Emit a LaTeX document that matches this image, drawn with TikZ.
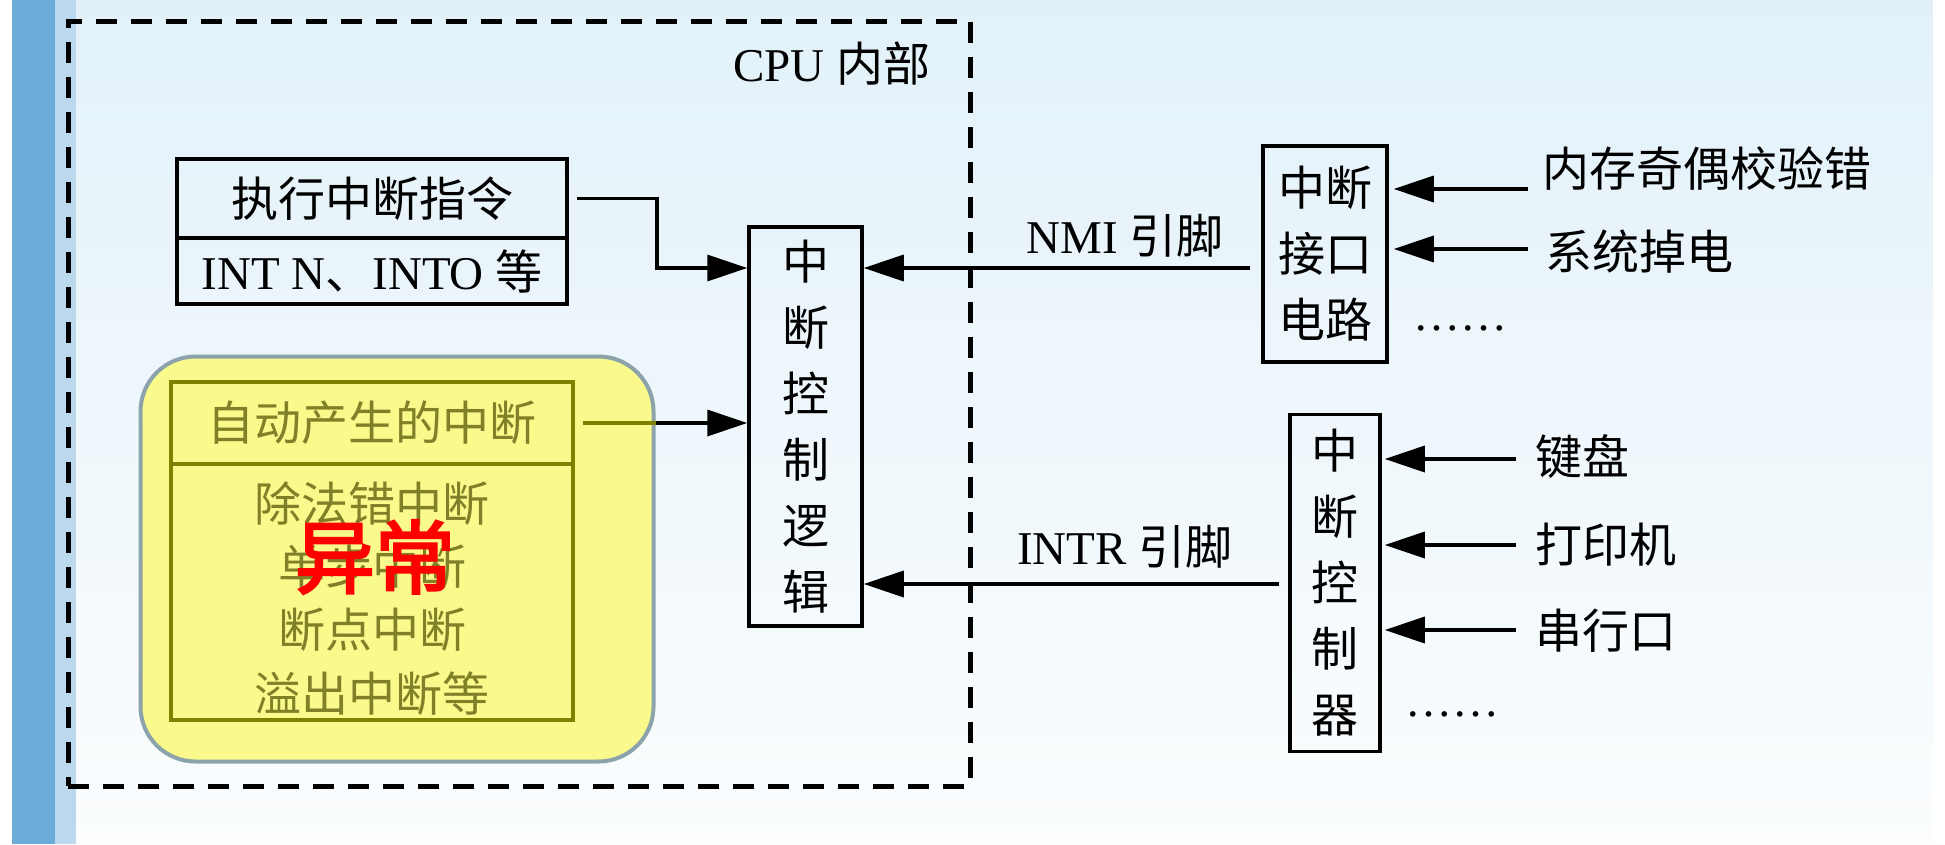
\documentclass[tikz,border=0pt]{standalone}
\usepackage{fontspec}
\setmainfont{Liberation Serif}
\newfontfamily\cjkf{Noto Sans CJK SC}
\newfontfamily\cjkbf{Noto Sans CJK SC}[FakeBold=3]
\usetikzlibrary{arrows.meta}
\newcommand\myzh[1]{{\cjkf #1}}
\definecolor{bgtop}{RGB}{226,241,249}
\definecolor{bgbot}{RGB}{251,253,254}
\definecolor{bardark}{RGB}{108,172,216}
\definecolor{barlight}{RGB}{187,216,236}
\definecolor{yelfill}{RGB}{249,249,140}
\definecolor{yeldraw}{RGB}{140,163,171}
\definecolor{olivedraw}{RGB}{127,127,0}
\definecolor{olivetext}{RGB}{128,128,40}
\definecolor{redtext}{RGB}{255,0,0}
\tikzset{
  box/.style={draw, line width=3.5pt, inner sep=0pt},
  lat/.style={font=\fontsize{47pt}{66pt}\selectfont, inner sep=0pt},
  zh/.style={font=\fontsize{47pt}{66pt}\selectfont\cjkf, inner sep=0pt},
  arr/.style={line width=3.5pt, -{Triangle[length=40pt,width=26pt]}},
  olbox/.style={draw=olivedraw, line width=4pt, inner sep=0pt},
}
\begin{document}
\begin{tikzpicture}[x=1pt,y=-1pt]
\useasboundingbox (0,0) rectangle (1945,844);
% background
\shade[top color=bgtop, bottom color=bgbot] (0,0) rectangle (1945,844);
\fill[white] (0,0) rectangle (12,844);
\fill[white] (1933,0) rectangle (1945,844);
\fill[bardark] (12,0) rectangle (55,844);
\fill[barlight] (55,0) rectangle (76,844);
% CPU frame
\node[draw, line width=5pt, dash pattern=on 21pt off 14pt, minimum width=902pt, minimum height=765pt, inner sep=0pt] (cpu) at (519,403.5) {};
\node[lat] (cpulbl) at (832,64) {CPU \myzh{内部}};
% exec instruction box
\node[box, zh, minimum width=390pt, minimum height=79pt] (exectop) at (372,198.5) {执行中断指令};
\node[box, lat, minimum width=390pt, minimum height=66pt] (execbot) at (372,271) {INT N\myzh{、}INTO \myzh{等}};
% yellow exception region
\node[draw=yeldraw, fill=yelfill, line width=4pt, rounded corners=55pt, minimum width=513pt, minimum height=405pt, inner sep=0pt] (yel) at (397,559) {};
\node[olbox, zh, text=olivetext, minimum width=402pt, minimum height=82pt] (autotop) at (372,423) {自动产生的中断};
\node[olbox, minimum width=402pt, minimum height=256pt] (autobot) at (372,592) {};
\node[zh, text=olivetext] (t1) at (372,504) {除法错中断};
\node[zh, text=olivetext] (t2) at (372,567) {单步中断};
\node[zh, text=olivetext] (t3) at (372,630) {断点中断};
\node[zh, text=olivetext] (t4) at (372,694) {溢出中断等};
\node[font=\fontsize{80pt}{80pt}\selectfont\cjkbf, text=redtext, inner sep=0pt] (yc) at (375,557) {异常};
% interrupt control logic
\node[box, zh, align=center, minimum width=113pt, minimum height=399pt] (logic) at (805.5,426.5) {中\\断\\控\\制\\逻\\辑};
% interface circuit
\node[box, zh, align=center, minimum width=124pt, minimum height=216pt] (iface) at (1325,254) {中断\\接口\\电路};
% interrupt controller
\node[box, zh, align=center, minimum width=90pt, minimum height=337pt] (ctrl) at (1335,583) {中\\断\\控\\制\\器};
% connectors into logic
\coordinate (bend) at (657,0);
\coordinate (ny) at (0,268);
\draw[arr] ([xshift=8pt]exectop.east) -- (exectop.east -| bend) -- (bend |- ny) -- (logic.west |- ny);
\draw[draw=olivedraw, line width=3.5pt] ([xshift=8pt]autotop.east) -- (autotop.east -| yel.east);
\draw[arr] (autotop.east -| yel.east) -- (autotop.east -| logic.west);
\coordinate (nmis) at (1250,268);
\coordinate (intrs) at (1279,584);
\draw[arr] (nmis) -- (logic.east |- nmis);
\draw[arr] (intrs) -- (logic.east |- intrs);
\node[lat] (nmilbl) at (1125,236) {NMI \myzh{引脚}};
\node[lat] (intrlbl) at (1125,547) {INTR \myzh{引脚}};
% inputs to interface circuit
\node[zh, anchor=west] (mem) at (1542,169) {内存奇偶校验错};
\node[zh, anchor=west] (pwr) at (1545,252) {系统掉电};
\coordinate (m1) at (1528,189);
\coordinate (m2) at (1528,249);
\draw[arr] (m1) -- ([xshift=5pt]iface.east |- m1);
\draw[arr] (m2) -- ([xshift=5pt]iface.east |- m2);
\node[lat, anchor=west] (dots1) at (1413,328) {……};
% inputs to controller
\node[zh, anchor=west] (kbd) at (1535,457) {键盘};
\node[zh, anchor=west] (prn) at (1535,545) {打印机};
\node[zh, anchor=west] (ser) at (1535,631) {串行口};
\coordinate (c1) at (1516,459);
\coordinate (c2) at (1516,545);
\coordinate (c3) at (1516,630);
\draw[arr] (c1) -- ([xshift=3pt]ctrl.east |- c1);
\draw[arr] (c2) -- ([xshift=3pt]ctrl.east |- c2);
\draw[arr] (c3) -- ([xshift=3pt]ctrl.east |- c3);
\node[lat, anchor=west] (dots2) at (1405,714) {……};
\end{tikzpicture}
\end{document}
